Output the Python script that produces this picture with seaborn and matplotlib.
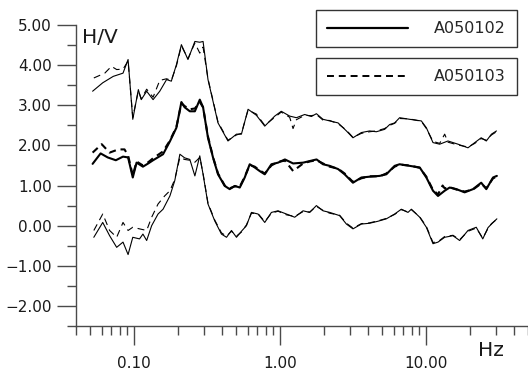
import matplotlib
matplotlib.use("Agg")
import matplotlib.pyplot as plt
import matplotlib.ticker as mticker
from matplotlib.lines import Line2D
import pandas as pd
import seaborn as sns


sns.set_style("ticks")
plt.rcParams["font.family"] = ["DejaVu Sans"]
plt.rcParams["lines.scale_dashes"] = False
plt.rcParams["axes.unicode_minus"] = True

# A050102 (solid): mean + std, mean, mean - std
freq_hi_a = [0.052, 0.061, 0.072, 0.084, 0.091, 0.098, 0.107, 0.112, 0.122, 0.135,
             0.150, 0.167, 0.180, 0.195, 0.211, 0.234, 0.261, 0.282, 0.297, 0.321,
             0.376, 0.440, 0.503, 0.544, 0.604, 0.689, 0.786, 0.920, 1.02, 1.165,
             1.295, 1.476, 1.64, 1.775, 1.97, 2.19, 2.50, 2.85, 3.16, 3.61,
             4.11, 4.57, 5.21, 5.64, 6.10, 6.60, 7.73, 9.29, 10.06, 11.17,
             12.41, 14.15, 16.57, 19.4, 21.6, 23.9, 25.9, 28.1, 30.4]
hv_hi_a = [3.35, 3.56, 3.72, 3.80, 4.14, 2.65, 3.39, 3.14, 3.35, 3.14,
           3.35, 3.64, 3.60, 4.01, 4.51, 4.14, 4.59, 4.57, 4.59, 3.64,
           2.56, 2.11, 2.28, 2.28, 2.90, 2.75, 2.48, 2.73, 2.85, 2.73,
           2.69, 2.77, 2.72, 2.79, 2.65, 2.61, 2.56, 2.36, 2.19, 2.32,
           2.36, 2.34, 2.40, 2.52, 2.56, 2.69, 2.65, 2.61, 2.44, 2.07,
           2.03, 2.11, 2.03, 1.94, 2.07, 2.19, 2.11, 2.28, 2.36]

freq_mid_a = [0.052, 0.059, 0.066, 0.075, 0.084, 0.091, 0.098, 0.104, 0.115, 0.125,
              0.135, 0.158, 0.176, 0.195, 0.211, 0.222, 0.241, 0.261, 0.282, 0.297,
              0.321, 0.348, 0.376, 0.418, 0.452, 0.490, 0.530, 0.573, 0.620, 0.671,
              0.726, 0.786, 0.873, 0.969, 1.08, 1.23, 1.44, 1.60, 1.78, 1.97,
              2.19, 2.50, 2.77, 3.16, 3.61, 4.11, 4.82, 5.35, 6.10, 6.60,
              7.73, 9.06, 10.06, 11.17, 12.09, 13.43, 14.53, 16.15, 18.4, 21.0,
              23.9, 25.9, 28.8, 30.6]
hv_mid_a = [1.54, 1.80, 1.70, 1.63, 1.72, 1.70, 1.20, 1.57, 1.47, 1.55,
            1.63, 1.78, 2.10, 2.44, 3.08, 2.95, 2.85, 2.85, 3.14, 2.95,
            2.19, 1.69, 1.28, 0.99, 0.91, 0.99, 0.95, 1.20, 1.53, 1.45,
            1.36, 1.28, 1.53, 1.57, 1.65, 1.55, 1.57, 1.61, 1.65, 1.53,
            1.49, 1.41, 1.28, 1.07, 1.20, 1.22, 1.24, 1.28, 1.49, 1.53,
            1.49, 1.45, 1.20, 0.87, 0.74, 0.87, 0.95, 0.91, 0.83, 0.91,
            1.07, 0.91, 1.20, 1.24]

freq_lo_a = [0.053, 0.061, 0.068, 0.076, 0.084, 0.091, 0.098, 0.109, 0.115, 0.122,
             0.132, 0.146, 0.158, 0.176, 0.190, 0.206, 0.222, 0.241, 0.261, 0.282,
             0.297, 0.321, 0.357, 0.397, 0.430, 0.465, 0.503, 0.544, 0.589, 0.637,
             0.707, 0.786, 0.873, 0.969, 1.106, 1.261, 1.438, 1.597, 1.775, 1.971,
             2.19, 2.56, 2.85, 3.16, 3.61, 4.11, 4.69, 5.35, 6.10, 6.78,
             7.53, 7.94, 9.06, 10.06, 11.17, 12.09, 13.43, 15.31, 17.01, 19.4,
             22.1, 24.5, 26.6, 28.1, 30.6]
hv_lo_a = [-0.29, 0.08, -0.25, -0.54, -0.41, -0.72, -0.29, -0.33, -0.21, -0.37,
           0.00, 0.29, 0.41, 0.74, 1.12, 1.78, 1.69, 1.65, 1.24, 1.74,
           1.28, 0.54, 0.12, -0.21, -0.29, -0.12, -0.29, -0.14, 0.00, 0.33,
           0.29, 0.08, 0.33, 0.37, 0.29, 0.21, 0.37, 0.33, 0.50, 0.37,
           0.33, 0.25, 0.04, -0.08, 0.04, 0.06, 0.11, 0.17, 0.29, 0.41,
           0.33, 0.41, 0.21, -0.04, -0.45, -0.41, -0.29, -0.25, -0.37, -0.12,
           -0.04, -0.33, -0.05, 0.04, 0.17]

# A050103 (dashed)
freq_hi_b = [0.053, 0.063, 0.070, 0.076, 0.084, 0.091, 0.098, 0.107, 0.112, 0.122,
             0.135, 0.150, 0.167, 0.180, 0.195, 0.211, 0.234, 0.261, 0.282, 0.297,
             0.321, 0.376, 0.440, 0.503, 0.544, 0.604, 0.689, 0.786, 0.920, 1.02,
             1.165, 1.228, 1.295, 1.476, 1.64, 1.775, 1.97, 2.19, 2.50, 2.85,
             3.16, 3.61, 4.11, 4.57, 5.21, 5.64, 6.10, 6.60, 7.73, 9.29,
             10.06, 11.17, 12.41, 13.43, 14.15, 16.57, 19.4, 21.6, 23.9, 25.9,
             28.1, 30.4]
hv_hi_b = [3.68, 3.80, 3.97, 3.89, 3.90, 4.10, 2.70, 3.36, 3.16, 3.40,
           3.20, 3.62, 3.66, 3.62, 3.98, 4.48, 4.16, 4.55, 4.30, 4.45,
           3.66, 2.58, 2.13, 2.26, 2.30, 2.88, 2.78, 2.50, 2.70, 2.83,
           2.70, 2.42, 2.64, 2.75, 2.74, 2.77, 2.63, 2.62, 2.54, 2.38,
           2.20, 2.30, 2.34, 2.36, 2.42, 2.50, 2.55, 2.67, 2.66, 2.60,
           2.42, 2.10, 2.05, 2.28, 2.08, 2.01, 1.96, 2.05, 2.17, 2.13,
           2.26, 2.34]

freq_mid_b = [0.052, 0.060, 0.068, 0.078, 0.086, 0.091, 0.098, 0.104, 0.115, 0.125,
              0.135, 0.158, 0.176, 0.195, 0.211, 0.222, 0.241, 0.261, 0.282, 0.297,
              0.321, 0.348, 0.376, 0.418, 0.452, 0.490, 0.530, 0.573, 0.620, 0.671,
              0.726, 0.786, 0.873, 0.969, 1.08, 1.23, 1.44, 1.60, 1.78, 1.97,
              2.19, 2.50, 2.77, 3.16, 3.61, 4.11, 4.82, 5.35, 6.10, 6.60,
              7.73, 9.06, 10.06, 11.17, 12.09, 13.0, 13.43, 14.53, 16.15, 18.4,
              21.0, 23.9, 25.9, 28.8, 30.6]
hv_mid_b = [1.82, 2.03, 1.82, 1.90, 1.90, 1.75, 1.25, 1.60, 1.50, 1.58,
            1.68, 1.85, 2.12, 2.46, 3.05, 2.98, 2.90, 2.92, 3.08, 2.95,
            2.22, 1.70, 1.30, 1.00, 0.93, 0.98, 0.97, 1.22, 1.51, 1.47,
            1.38, 1.30, 1.50, 1.59, 1.62, 1.36, 1.55, 1.60, 1.63, 1.55,
            1.47, 1.42, 1.30, 1.09, 1.18, 1.23, 1.23, 1.30, 1.47, 1.52,
            1.50, 1.44, 1.22, 0.89, 0.78, 1.00, 0.93, 0.96, 0.90, 0.85,
            0.90, 1.05, 0.93, 1.18, 1.22]

freq_lo_b = [0.053, 0.061, 0.068, 0.076, 0.084, 0.091, 0.098, 0.109, 0.122, 0.132,
             0.146, 0.162, 0.176, 0.190, 0.206, 0.222, 0.241, 0.261, 0.282, 0.297,
             0.321, 0.357, 0.397, 0.430, 0.465, 0.503, 0.544, 0.589, 0.637, 0.707,
             0.786, 0.873, 0.969, 1.106, 1.261, 1.438, 1.597, 1.775, 1.971, 2.19,
             2.56, 2.85, 3.16, 3.61, 4.11, 4.69, 5.35, 6.10, 6.78, 7.53,
             7.94, 9.06, 10.06, 11.17, 12.09, 13.43, 15.31, 17.01, 19.4, 22.1,
             24.5, 26.6, 28.1, 30.6]
hv_lo_b = [-0.12, 0.29, -0.12, -0.29, 0.08, -0.12, -0.04, -0.08, -0.12, 0.21,
           0.54, 0.74, 0.87, 1.15, 1.70, 1.65, 1.63, 1.58, 1.70, 1.30,
           0.56, 0.14, -0.18, -0.26, -0.14, -0.26, -0.16, 0.02, 0.31, 0.30,
           0.10, 0.31, 0.36, 0.27, 0.23, 0.35, 0.34, 0.48, 0.38, 0.31,
           0.26, 0.06, -0.06, 0.05, 0.07, 0.12, 0.18, 0.28, 0.40, 0.34,
           0.40, 0.22, -0.02, -0.42, -0.40, -0.27, -0.24, -0.35, -0.14, -0.06,
           -0.31, -0.07, 0.05, 0.16]

series_names = ["A050102", "A050103"]

grey = "#4a4a4a"
dash = (5, 3.5)

fig = plt.figure(figsize=(5.28, 3.72), dpi=100)
ax = fig.add_axes([0.1439, 0.1237, 0.8561, 0.8091])
ax.set_xscale("log")

curves = [
    (freq_hi_a, hv_hi_a, 0.8, "solid"),
    (freq_mid_a, hv_mid_a, 1.5, "solid"),
    (freq_lo_a, hv_lo_a, 0.8, "solid"),
    (freq_hi_b, hv_hi_b, 0.8, "dashed"),
    (freq_mid_b, hv_mid_b, 1.5, "dashed"),
    (freq_lo_b, hv_lo_b, 0.8, "dashed"),
]
for fx, fy, lw, style in curves:
    df = pd.DataFrame({"Hz": fx, "HV": fy})
    kw = {"dashes": dash} if style == "dashed" else {}
    sns.lineplot(data=df, x="Hz", y="HV", ax=ax, color="black", lw=lw,
                 estimator=None, sort=False, **kw)

ax.set_xlim(0.04, 50)
ax.set_ylim(-2.5, 5.0)
ax.set_xlabel("")
ax.set_ylabel("")

ax.xaxis.set_major_locator(mticker.FixedLocator([0.1, 1, 10]))
ax.xaxis.set_major_formatter(mticker.FuncFormatter(lambda v, p: f"{v:.2f}"))
ax.xaxis.set_minor_locator(mticker.LogLocator(base=10, subs=range(2, 10), numticks=20))
ax.xaxis.set_minor_formatter(mticker.NullFormatter())
ax.yaxis.set_major_locator(mticker.MultipleLocator(1))
ax.yaxis.set_minor_locator(mticker.MultipleLocator(0.5))
ax.yaxis.set_major_formatter(mticker.FuncFormatter(lambda v, p: f"{v:.2f}".replace("-", "\u2212")))

for side in ["top", "right"]:
    ax.spines[side].set_visible(False)
for side in ["left", "bottom"]:
    ax.spines[side].set_color(grey)
    ax.spines[side].set_linewidth(1.0)

ax.tick_params(which="major", length=13.7, width=1.0, color=grey, labelsize=11,
               labelcolor="#1a1a1a")
ax.tick_params(which="minor", length=6.5, width=1.0, color=grey)
ax.tick_params(axis="y", which="major", pad=3.6)
ax.tick_params(axis="x", which="major", pad=8)

fig.text(0.155, 0.925, "H/V", ha="left", va="top", fontsize=14.5, color="#1a1a1a")
fig.text(0.930, 0.059, "Hz", ha="center", va="center", fontsize=14.5, color="#1a1a1a")

leg_kw = dict(fontsize=11.5, frameon=True, fancybox=False, framealpha=1,
              edgecolor="#333333", borderpad=0.7, handlelength=5.1,
              handletextpad=1.6, borderaxespad=0, loc="upper right",
              bbox_transform=fig.transFigure)
h1 = Line2D([], [], color="black", lw=1.6)
h2 = Line2D([], [], color="black", lw=1.4, dashes=dash)
leg1 = ax.legend([h1], [series_names[0]], bbox_to_anchor=(0.979, 0.973), **leg_kw)
leg1.get_frame().set_linewidth(1.0)
ax.add_artist(leg1)
leg2 = ax.legend([h2], [series_names[1]], bbox_to_anchor=(0.979, 0.844), **leg_kw)
leg2.get_frame().set_linewidth(1.0)

fig.savefig("out.png", dpi=100)
